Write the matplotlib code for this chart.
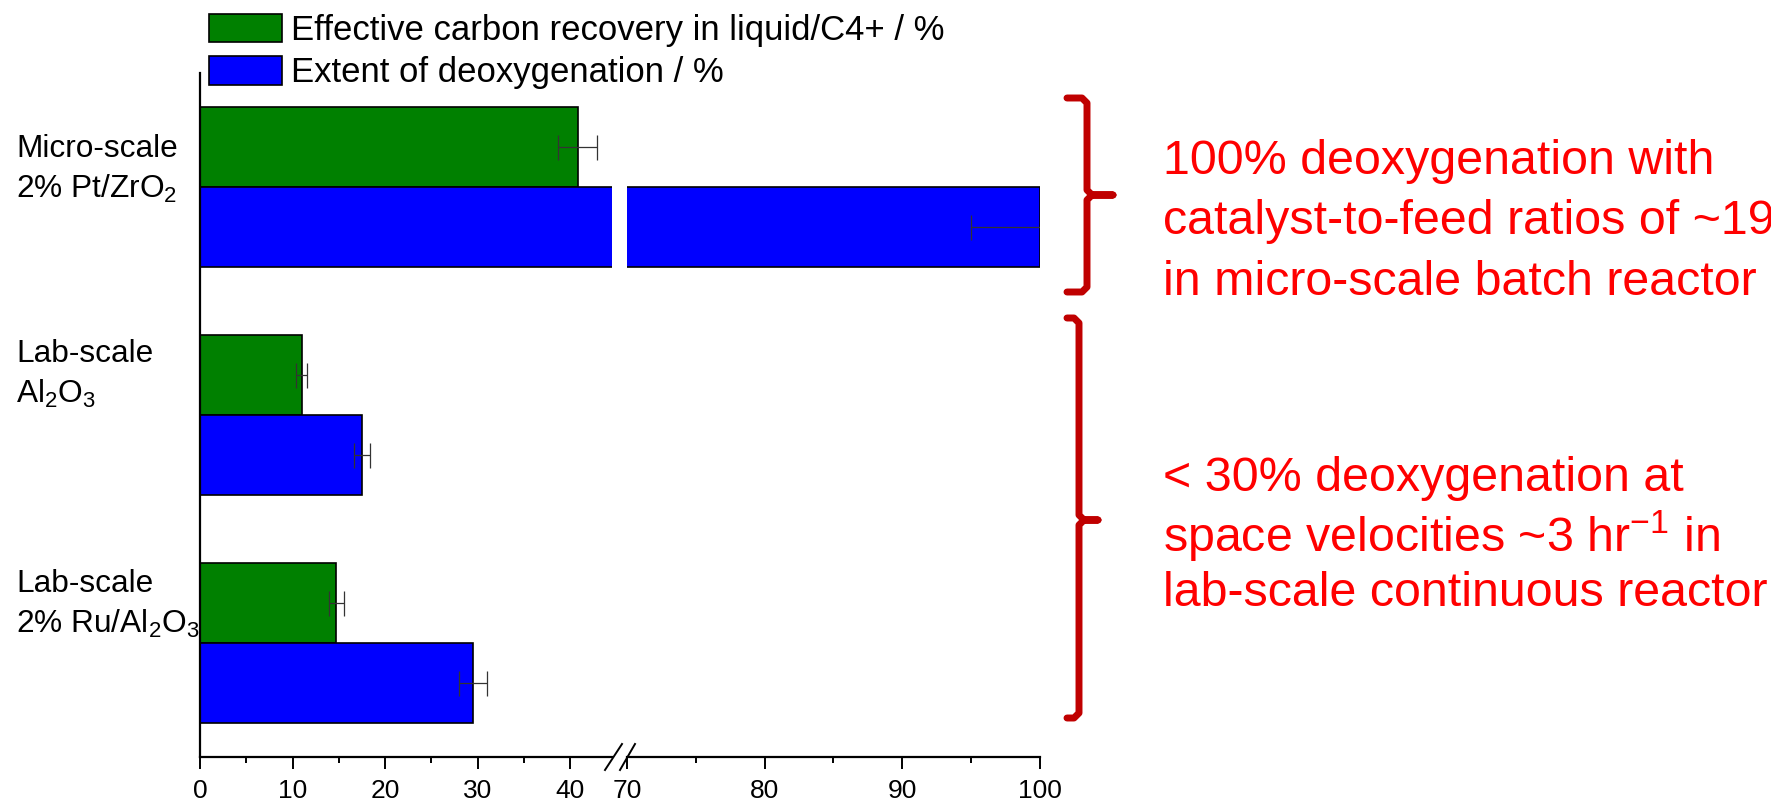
import matplotlib.pyplot as plt
from matplotlib.lines import Line2D
import numpy as np

plt.rcParams['font.family'] = ['Liberation Sans', 'DejaVu Sans']
plt.rcParams['mathtext.fontset'] = 'custom'
plt.rcParams['mathtext.rm'] = 'Liberation Sans'
plt.rcParams['mathtext.it'] = 'Liberation Sans:italic'
plt.rcParams['mathtext.bf'] = 'Liberation Sans:bold'

# data
catalysts = ['Micro-scale\n2% Pt/ZrO$_2$', 'Lab-scale\nAl$_2$O$_3$', 'Lab-scale\n2% Ru/Al$_2$O$_3$']
carbon_recovery = [40.8, 11.0, 14.7]
carbon_err = [2.1, 0.6, 0.8]
deoxygenation = [100.0, 17.5, 29.5]
deox_err = [5.0, 0.9, 1.5]
series_labels = ['Effective carbon recovery in liquid/C4+ / %', 'Extent of deoxygenation / %']
left_ticks = [0, 10, 20, 30, 40]
right_ticks = [70, 80, 90, 100]
notes = ['100% deoxygenation with\ncatalyst-to-feed ratios of ~19\nin micro-scale batch reactor',
         '< 30% deoxygenation at\nspace velocities ~3 hr$^{-1}$ in\nlab-scale continuous reactor']

W, H = 1771, 802
fig = plt.figure(figsize=(W / 100, H / 100), dpi=100)


def fx(px):
    return px / W


def fy(py):
    return 1 - py / H


axL = fig.add_axes([fx(200), fy(757), fx(412), 684 / H])
axR = fig.add_axes([fx(627), fy(757), fx(413), 684 / H])

groups = np.array([2, 1, 0])
h = 0.353
ekw = dict(ecolor='#333333', elinewidth=0.9, capsize=9, capthick=0.9)

for ax in (axL, axR):
    b1 = ax.barh(groups + h / 2, carbon_recovery, height=h, color='#008000',
                 edgecolor='black', linewidth=1.2, xerr=carbon_err, error_kw=ekw)
    b2 = ax.barh(groups - h / 2, deoxygenation, height=h, color='#0000ff',
                 edgecolor='black', linewidth=1.2, xerr=deox_err, error_kw=ekw)
    ax.set_ylim(-0.5, 2.5)
    ax.set_yticks([])
    ax.spines['top'].set_visible(False)
    ax.spines['right'].set_visible(False)
    ax.spines['bottom'].set_linewidth(1.6)
    ax.tick_params(axis='x', which='major', length=8.5, width=1.4, direction='out',
                   labelsize=19, pad=7)
    ax.tick_params(axis='x', which='minor', length=4.3, width=1.4, direction='out')
    ax.patch.set_alpha(0)

axL.set_xlim(0, 44.5)
axL.set_xticks(left_ticks)
axL.set_xticks([5, 15, 25, 35], minor=True)
axL.spines['left'].set_linewidth(1.6)

axR.set_xlim(70, 100)
axR.set_xticks(right_ticks)
axR.set_xticks([75, 85, 95], minor=True)
axR.spines['left'].set_visible(False)

# category labels
label_y = [2.076, 1.177, 0.169]
for lab, yy in zip(catalysts, label_y):
    axL.text(-0.4466, yy, lab, transform=axL.get_yaxis_transform(), ha='left',
             va='center', fontsize=22.8, linespacing=1.34)

# axis break marks
for x0, x1 in [(605, 622), (620, 635)]:
    fig.add_artist(Line2D([fx(x0), fx(x1)], [fy(770), fy(744)], color='black', lw=1.4))

fig.legend([b1, b2], series_labels, loc='upper left', bbox_to_anchor=(fx(209), fy(14)),
           frameon=False, fontsize=25, handlelength=2.1, handleheight=0.88,
           handletextpad=0.26, labelspacing=0.26, borderpad=0, borderaxespad=0)


def brace(xl, xs, xt, yt, ym, yb):
    r = 5
    xs_ = [xl, xs - r, xs, xs, xs + r, xt, xs + r, xs, xs, xs - r, xl]
    ys_ = [yt, yt, yt + r, ym - r, ym, ym, ym, ym + r, yb - r, yb, yb]
    fig.add_artist(Line2D([fx(v) for v in xs_], [fy(v) for v in ys_], color='#c00000',
                          lw=5, solid_joinstyle='round', solid_capstyle='round'))


brace(1067, 1087, 1113, 98, 195, 292)
brace(1067, 1079, 1098, 318, 520, 718)

fig.text(fx(1163), fy(222), notes[0], color='red', fontsize=34.8, va='center',
         ha='left', linespacing=1.45)
fig.text(fx(1163), fy(536), notes[1], color='red', fontsize=34.8, va='center',
         ha='left', linespacing=1.2)

fig.savefig('out.png', dpi=100)
